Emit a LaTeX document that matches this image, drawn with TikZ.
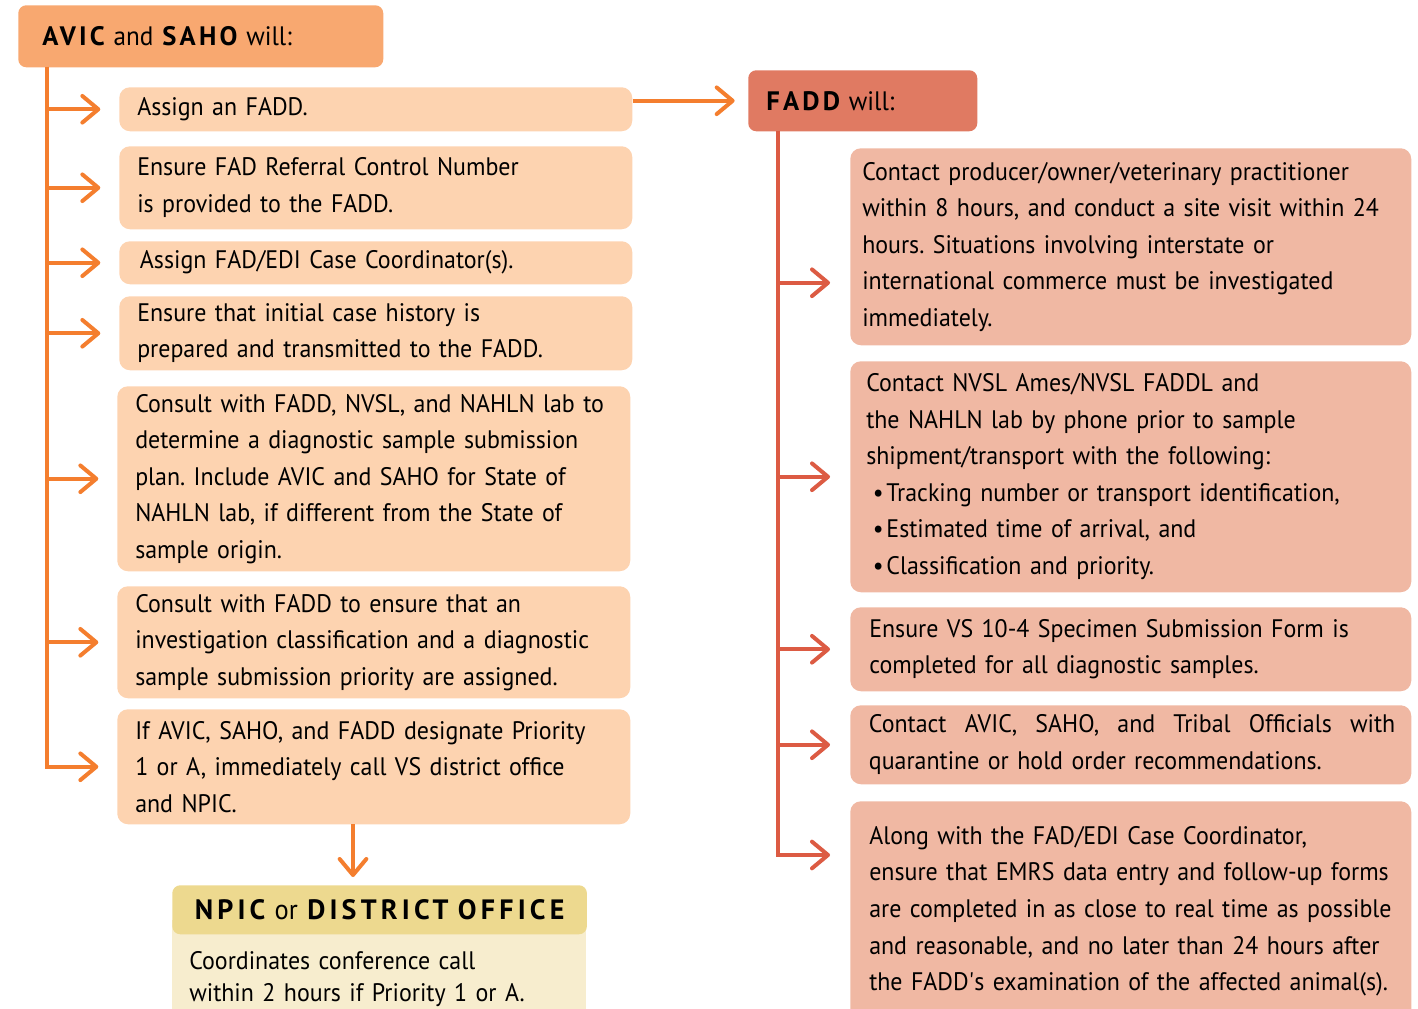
\documentclass[tikz,border=0pt]{standalone}
\usepackage{fontspec}
\setmainfont{PT Sans}[FakeStretch=0.945]
\newfontfamily\trackfont{PT Sans}[LetterSpace=12]
\newfontfamily\widetrackfont{PT Sans}[LetterSpace=15]
\usepackage{xcolor}
\definecolor{avichead}{HTML}{F8A870}
\definecolor{avicline}{HTML}{F47E2E}
\definecolor{avicbox}{HTML}{FDD3B0}
\definecolor{faddhead}{HTML}{E07A62}
\definecolor{faddline}{HTML}{DC5B43}
\definecolor{faddbox}{HTML}{F0B8A3}
\definecolor{npichead}{HTML}{EDD98F}
\definecolor{npicbody}{HTML}{F7EDCE}
\usetikzlibrary{arrows.meta}
\frenchspacing
\hyphenpenalty=10000

\begin{document}
\begin{tikzpicture}[x=0.75pt, y=-0.75pt,
  headnode/.style={anchor=north west, rounded corners=6pt, align=left,
    inner xsep=13.5pt, font=\fontsize{20pt}{24pt}\selectfont},
  avbox/.style={
    anchor=north west, fill=avicbox, rounded corners=8pt,
    text width=357.75pt, inner xsep=13.5pt, align=left,
    font=\fontsize{19pt}{27.4pt}\selectfont
  },
  fdbox/.style={
    anchor=north west, fill=faddbox, rounded corners=8pt,
    text width=392.25pt, inner xsep=14.25pt, align=left,
    font=\fontsize{19pt}{27.4pt}\selectfont
  },
  avarrow/.style={-{Straight Barb[length=12pt, width=20pt, round]},
    line width=3pt, avicline},
  fdarrow/.style={-{Straight Barb[length=12pt, width=20pt, round]},
    line width=3pt, faddline}
]
\useasboundingbox (0,0) rectangle (1418,1009);
\clip (0,0) rectangle (1418,1009);

% ---- AVIC / SAHO ----
\begin{scope}
  \node[headnode, fill=avichead, inner xsep=18pt, text width=237.75pt, minimum height=46.5pt]
    (avic) at (18, 5) {{\trackfont\bfseries AVIC} and {\trackfont\bfseries SAHO} will:};

  \node[avbox, minimum height=33pt]    (a1) at (119,  87) {Assign an FADD.};
  \node[avbox, minimum height=62.25pt] (a2) at (119, 146) {Ensure FAD Referral Control Number\\
    is provided to the FADD.};
  \node[avbox, minimum height=32.25pt] (a3) at (119, 241) {\hspace*{2pt}Assign FAD/EDI Case Coordinator(s).};
  \node[avbox, minimum height=55.5pt]  (a4) at (119, 296) {Ensure that initial case history is\\
    prepared and transmitted to the FADD.};
  \node[avbox, minimum height=138.75pt] (a5) at (117, 386) {Consult with FADD, NVSL, and NAHLN lab to\\
    determine a diagnostic sample submission\\
    plan. Include AVIC and SAHO for State of\\
    NAHLN lab, if different from the State of\\
    sample origin.};
  \node[avbox, minimum height=84pt]    (a6) at (117, 586) {Consult with FADD to ensure that an\\
    investigation classification and a diagnostic\\
    sample submission priority are assigned.};
  \node[avbox, minimum height=86.25pt] (a7) at (117, 709) {If AVIC, SAHO, and FADD designate Priority\\
    1 or A, immediately call VS district office\\
    and NPIC.};

  \coordinate (atrunk) at (47, 67);
  \draw[line width=3pt, avicline] (atrunk) -- (atrunk |- a1.west);
  \foreach \b in {a1, a2, a3, a4, a5, a6}
    \draw[avarrow, shorten >=14pt] (\b.west -| atrunk) -- (\b.west);
  \draw[avarrow, shorten >=14pt] (atrunk) |- (a7.west);
\end{scope}

% ---- FADD ----
\begin{scope}
  \node[headnode, fill=faddhead, text width=144.75pt, minimum height=45.75pt]
    (fadd) at (748, 70) {{\trackfont\bfseries FADD} will:};

  \node[fdbox, inner xsep=9pt, text width=402.75pt, minimum height=147.75pt]
    (f1) at (850, 148) {Contact producer/owner/veterinary practitioner\\
    within 8 hours, and conduct a site visit within 24\\
    hours. Situations involving interstate or\\
    international commerce must be investigated\\
    immediately.};
  \node[fdbox, inner xsep=12pt, text width=396.75pt, minimum height=173.25pt]
    (f2) at (850, 361) {Contact NVSL Ames/NVSL FADDL and\\
    the NAHLN lab by phone prior to sample\\
    shipment/transport with the following:\\
    \hspace*{5pt}\textbullet\hspace{2pt}Tracking number or transport identification,\\
    \hspace*{5pt}\textbullet\hspace{2pt}Estimated time of arrival, and\\
    \hspace*{5pt}\textbullet\hspace{2pt}Classification and priority.};
  \node[fdbox, minimum height=63pt]    (f3) at (850, 607) {Ensure VS 10-4 Specimen Submission Form is\\
    completed for all diagnostic samples.};
  \node[fdbox, inner xsep=12pt, text width=396.75pt, minimum height=59.25pt] (f4) at (850, 705)
    {\hbox to 396.75pt{\hspace*{2pt}Contact\hfill AVIC,\hfill SAHO,\hfill and\hfill Tribal\hfill Officials\hfill with}\\
    \hspace*{2pt}quarantine or hold order recommendations.};
  \node[fdbox, minimum height=165pt]   (f5) at (850, 801) {Along with the FAD/EDI Case Coordinator,\\
    ensure that EMRS data entry and follow-up forms\\
    are completed in as close to real time as possible\\
    and reasonable, and no later than 24 hours after\\
    the FADD\textquotesingle s examination of the affected animal(s).};

  \coordinate (ftrunk) at (778, 131);
  \coordinate (f1in) at ([yshift=-27pt]f1.west);
  \coordinate (f5in) at ([yshift=-40.5pt]f5.north west);
  \draw[line width=3pt, faddline] (ftrunk) -- (ftrunk |- f1in);
  \draw[fdarrow, shorten >=15pt] (f1in -| ftrunk) -- (f1in);
  \foreach \b in {f2, f3, f4}
    \draw[fdarrow, shorten >=15pt] (\b.west -| ftrunk) -- (\b.west);
  \draw[fdarrow, shorten >=15pt] (ftrunk) |- (f5in);
\end{scope}

% ---- NPIC ----
\begin{scope}
  \node[anchor=north west, fill=npicbody, minimum width=310.5pt, minimum height=82.5pt,
        text width=285pt, inner xsep=12.75pt, align=left,
        font=\fontsize{19pt}{24pt}\selectfont]
    (npicbody) at (172, 920) {\rule{0pt}{19pt}Coordinates conference call\\
    within 2 hours if Priority 1 or A.};
  \node[headnode, fill=npichead, minimum width=310.5pt, minimum height=36.75pt,
        align=center, text width=284pt, font=\fontsize{21pt}{24pt}\selectfont]
    (npic) at (172, 885) {{\widetrackfont\bfseries NPIC} or {\widetrackfont\bfseries DISTRICT OFFICE}};
\end{scope}

% ---- Arrows between groups ----
\draw[avarrow, shorten >=10pt] (a1.east |- fadd.west) -- (fadd.west);
\coordinate (dn) at (353, 824);
\draw[avarrow, shorten >=6pt] (dn) -- (dn |- npic.north);

\end{tikzpicture}
\end{document}
